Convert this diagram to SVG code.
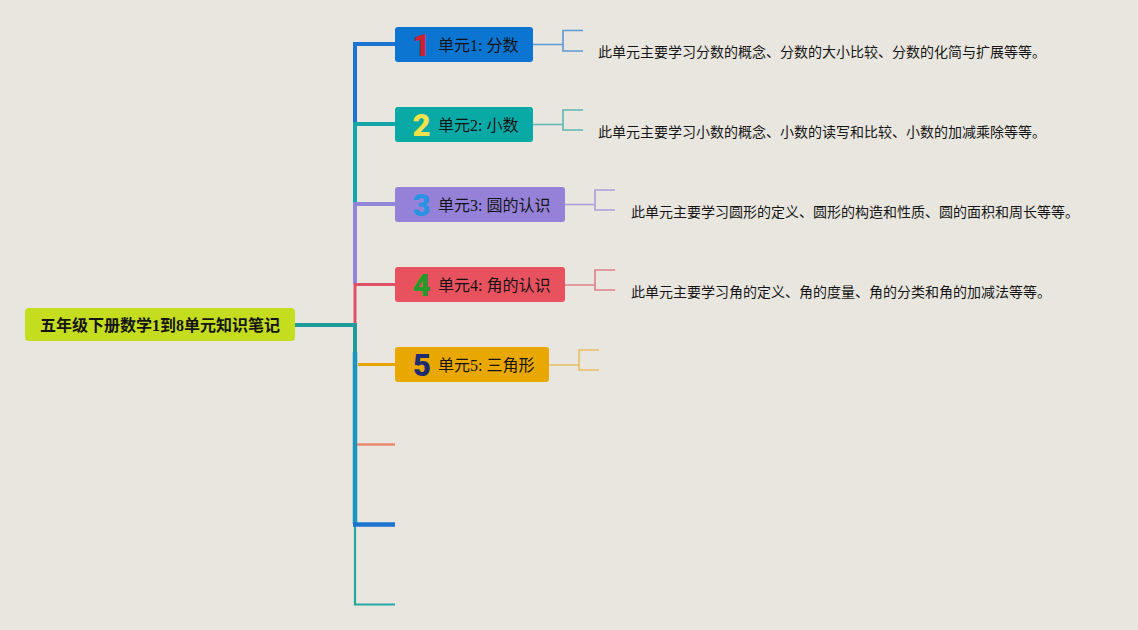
<svg xmlns="http://www.w3.org/2000/svg" width="1138" height="630" viewBox="0 0 1138 630">
<style>
.bg{fill:#e9e6df}
.lbl{font-family:"Liberation Serif","Noto Sans CJK SC",serif;font-size:16px;fill:#141414}
.root{font-family:"Liberation Serif","Noto Sans CJK SC",serif;font-size:16px;font-weight:bold;fill:#141414}
.num{font-family:Roboto,"Noto Sans",sans-serif;font-weight:900;font-size:31px;text-anchor:middle}
.desc{font-family:"Noto Sans CJK SC",sans-serif;font-size:14px;fill:#161616}
.ln{fill:none;stroke-linecap:butt;stroke-linejoin:miter}
.br{fill:none;stroke-width:1.6}
</style>
<rect class="bg" x="0" y="0" width="1138" height="630"/>

<g id="connectors">
  <path class="ln" d="M395,44 H355 V124" stroke="#1d74d0" stroke-width="4"/>
  <path class="ln" d="M395,124 H355 V204" stroke="#13a6a8" stroke-width="4"/>
  <path class="ln" d="M395,204 H355 V284" stroke="#8f86d8" stroke-width="4"/>
  <path class="ln" d="M395,284.5 H355 V324" stroke="#e05068" stroke-width="3"/>
  <path class="ln" d="M355,352 V524" stroke="#1a95c2" stroke-width="4.5"/>
  <path class="ln" d="M295,325 H355 V352" stroke="#1d9c98" stroke-width="4"/>
  <path class="ln" d="M358,364.5 H395" stroke="#e8a500" stroke-width="3"/>
  <path class="ln" d="M357,444.5 H395" stroke="#e8886a" stroke-width="2.5"/>
  <path class="ln" d="M355,524 V604.5 H395" stroke="#22a8a0" stroke-width="2.2"/>
  <path class="ln" d="M353,524.5 H395" stroke="#1d74d0" stroke-width="4.5"/>

  <path class="br" d="M533,44.5 H563 M583,30.5 H563 V51 H583" stroke="#5e9ad6"/>
  <path class="br" d="M533,124.5 H563 M583,110 H563 V130 H583" stroke="#5cb8b6"/>
  <path class="br" d="M565,204.5 H595 M615,190 H595 V210 H615" stroke="#a89fdc"/>
  <path class="br" d="M565,285 H595 M615,270 H595 V290 H615" stroke="#e0808c"/>
  <path class="br" d="M549,365 H579 M599,350 H579 V370 H599" stroke="#e8c060"/>
</g>

<g id="root">
  <rect x="25" y="308" width="270" height="33" rx="4" fill="#c4dd1f"/>
  <text class="root" x="160" y="331" text-anchor="middle">五年级下册数学1到8单元知识笔记</text>
</g>

<g id="node1">
  <rect x="395" y="27" width="138" height="35" rx="3" fill="#0c74d1"/>
  <text class="num" x="421.5" y="56" fill="#d0202e">1</text>
  <text class="lbl" x="438" y="51">单元1: 分数</text>
</g>
<g id="node2">
  <rect x="395" y="107" width="138" height="35" rx="3" fill="#09a9a6"/>
  <text class="num" x="421.5" y="136" fill="#f2e24a">2</text>
  <text class="lbl" x="438" y="131">单元2: 小数</text>
</g>
<g id="node3">
  <rect x="395" y="187" width="170" height="35" rx="3" fill="#9582d8"/>
  <text class="num" x="421.5" y="216" fill="#2a92e2">3</text>
  <text class="lbl" x="438" y="211">单元3: 圆的认识</text>
</g>
<g id="node4">
  <rect x="395" y="267" width="170" height="35" rx="3" fill="#e8525f"/>
  <text class="num" x="421.5" y="296" fill="#259a2a">4</text>
  <text class="lbl" x="438" y="291">单元4: 角的认识</text>
</g>
<g id="node5">
  <rect x="395" y="347" width="154" height="35" rx="3" fill="#e9a800"/>
  <text class="num" x="422" y="376" fill="#1d2b72">5</text>
  <text class="lbl" x="438" y="371">单元5: 三角形</text>
</g>

<g id="desc1"><text class="desc" x="598" y="57">此单元主要学习分数的概念、分数的大小比较、分数的化简与扩展等等。</text></g>
<g id="desc2"><text class="desc" x="598" y="137">此单元主要学习小数的概念、小数的读写和比较、小数的加减乘除等等。</text></g>
<g id="desc3"><text class="desc" x="631" y="217">此单元主要学习圆形的定义、圆形的构造和性质、圆的面积和周长等等。</text></g>
<g id="desc4"><text class="desc" x="631" y="297">此单元主要学习角的定义、角的度量、角的分类和角的加减法等等。</text></g>
</svg>
